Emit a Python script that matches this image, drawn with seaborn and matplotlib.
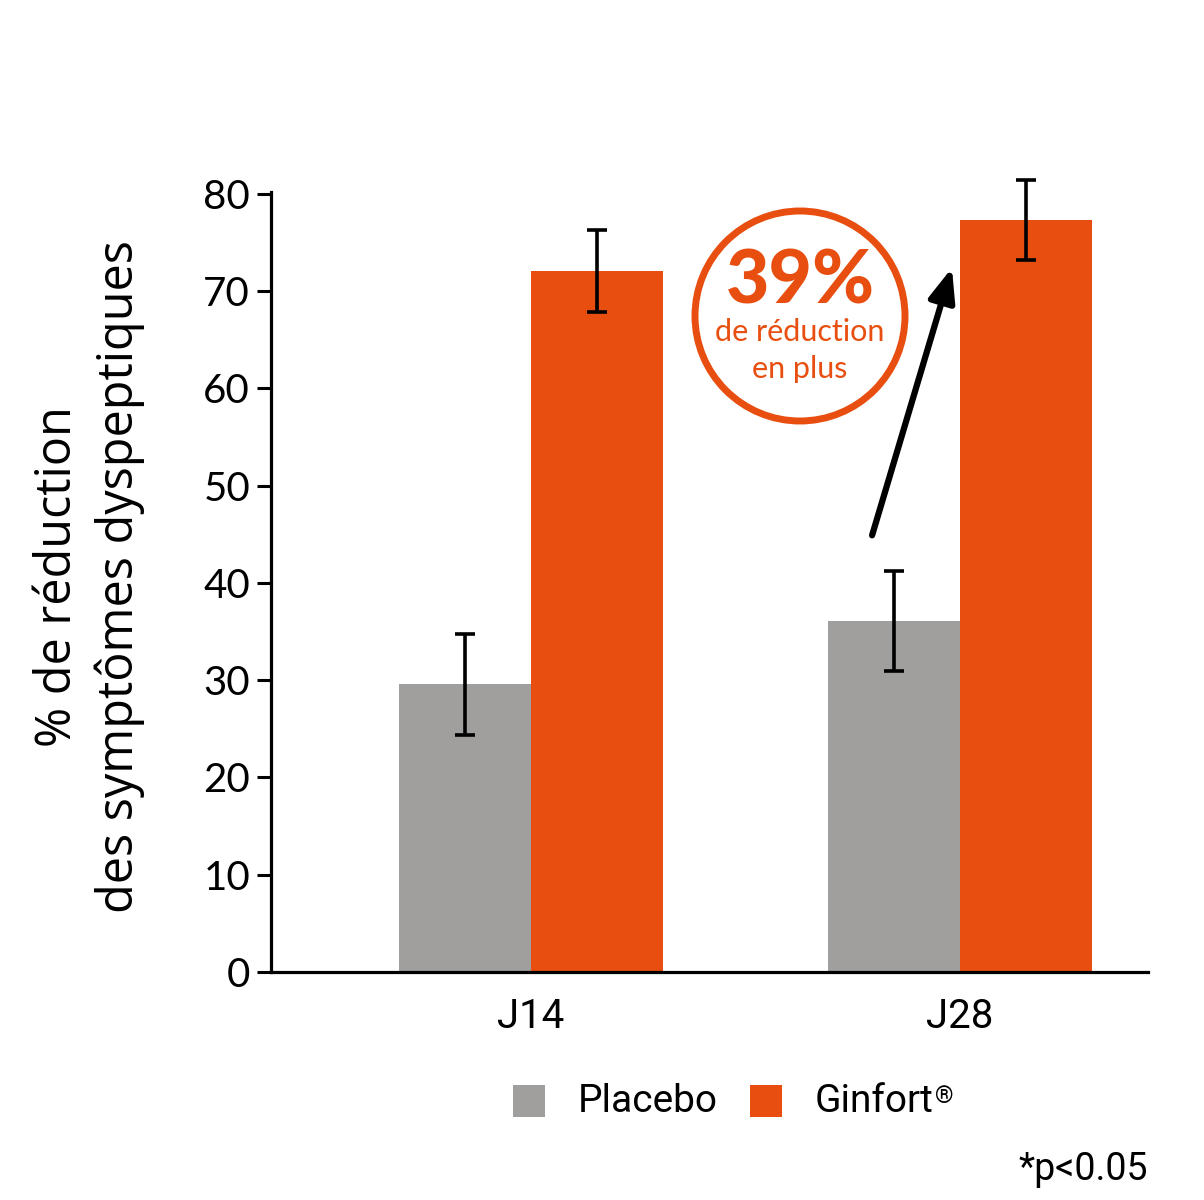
import numpy as np
import pandas as pd
import matplotlib
matplotlib.use("Agg")
import matplotlib.pyplot as plt
import seaborn as sns
from matplotlib.patches import Circle

# Données
jours = ["J14", "J28"]
groupes = ["Placebo", "Ginfort®"]
placebo = [29.6, 36.1]
ginfort = [72.1, 77.3]
err_placebo = [5.2, 5.1]
err_ginfort = [4.2, 4.1]

df = pd.DataFrame({
    "jour": jours * 2,
    "groupe": [groupes[0]] * 2 + [groupes[1]] * 2,
    "valeur": placebo + ginfort,
    "err": err_placebo + err_ginfort,
})

gris = "#A09F9D"
orange = "#E84E0F"

sns.set_theme(style="white")
plt.rcParams["font.family"] = ["Lato", "DejaVu Sans"]
plt.rcParams["text.color"] = "black"
plt.rcParams["xtick.color"] = "black"
plt.rcParams["ytick.color"] = "black"
plt.rcParams["axes.labelcolor"] = "black"

fig = plt.figure(figsize=(12.04, 12), dpi=100)
ax = fig.add_axes([0.225, 0.19, 0.7285, 0.65])

sns.barplot(data=df, x="jour", y="valeur", hue="groupe", order=jours, hue_order=groupes,
            palette=[gris, orange], width=0.616, errorbar=None, saturation=1,
            linewidth=0, ax=ax, legend=False)

# Barres d'erreur
for bars, g in zip(ax.containers, groupes):
    sub = df[df["groupe"] == g].set_index("jour").loc[jours]
    xs = [b.get_x() + b.get_width() / 2 for b in bars]
    eb = ax.errorbar(xs, sub["valeur"], yerr=sub["err"], fmt="none", ecolor="black",
                     elinewidth=2.6, capsize=7.5, capthick=2.6, zorder=5)
    for art in eb.lines[1] + eb.lines[2]:
        art.set_clip_on(False)

ax.set_xlim(-0.606, 1.438)
ax.set_ylim(0, 80.2)
ax.set_yticks(range(0, 81, 10))
ax.tick_params(axis="y", length=10, width=2.2, color="black", labelsize=29, pad=5, left=True)
ax.tick_params(axis="x", length=0, labelsize=29, pad=18)
for lbl in ax.get_xticklabels():
    lbl.set_family(["Roboto", "DejaVu Sans"])
for s in ["top", "right"]:
    ax.spines[s].set_visible(False)
for s in ["left", "bottom"]:
    ax.spines[s].set_color("black")
    ax.spines[s].set_linewidth(2.3)
ax.set_xlabel("")
ax.set_ylabel("% de réduction\ndes symptômes dyspeptiques", fontsize=35, linespacing=1.3,
              family=["Open Sans", "DejaVu Sans"])
ax.yaxis.set_label_coords(-0.143, 0.507)

# Flèche
ax.annotate("", xy=(0.981, 72.4), xytext=(0.795, 44.9),
            arrowprops=dict(arrowstyle="-|>,head_length=1.0,head_width=0.4", color="black",
                            lw=4.5, mutation_scale=20, shrinkA=0, shrinkB=0))

# Cercle annotation
cx, cy, r = 8.00, 12 - 3.16, 1.05
fig.patches.append(Circle((cx, cy), r, transform=fig.dpi_scale_trans, fill=False,
                          edgecolor=orange, linewidth=5, zorder=10))
fig.text(cx / 12.04, (12 - 2.82) / 12, "39%", color=orange, fontsize=54, fontweight="black",
         ha="center", va="center")
fig.text(cx / 12.04, (12 - 3.32) / 12, "de réduction", color=orange, fontsize=22,
         ha="center", va="center")
fig.text(cx / 12.04, (12 - 3.69) / 12, "en plus", color=orange, fontsize=22,
         ha="center", va="center")

# Légende
legend_txt = []
for xs, col, txt in [(5.13, gris, "Placebo"), (7.50, orange, "Ginfort")]:
    fig.patches.append(plt.Rectangle((xs, 12 - 11.17), 0.32, 0.32, transform=fig.dpi_scale_trans,
                                     facecolor=col, edgecolor="none"))
    legend_txt.append(fig.text((xs + 0.65) / 12.04, (12 - 11.01) / 12, txt, fontsize=28,
                               ha="left", va="center", family=["Roboto", "DejaVu Sans"]))

fig.canvas.draw()
bb = legend_txt[1].get_window_extent().transformed(fig.transFigure.inverted())
fig.text(bb.x1 + 0.001, bb.y1 - 0.002, "®", fontsize=17, ha="left", va="top",
         family=["Roboto", "DejaVu Sans"])

fig.text(1148 / 1204, 1 - 1170 / 1200, "*p<0.05", fontsize=27, ha="right", va="center",
         family=["Roboto", "DejaVu Sans"])

fig.savefig("out.png", dpi=100, facecolor="white")
